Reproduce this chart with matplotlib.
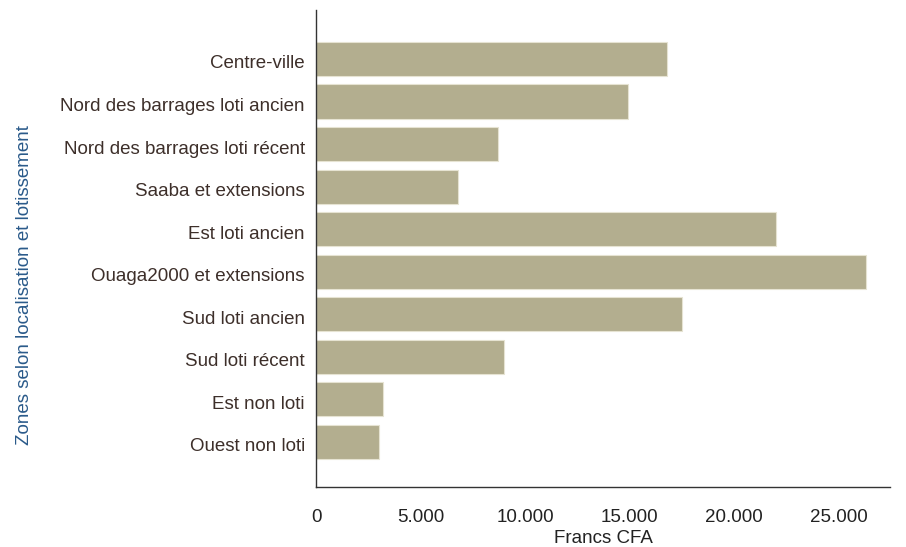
import matplotlib.pyplot as plt
import matplotlib.transforms as mtransforms
from matplotlib.ticker import FuncFormatter

zones = ['Centre-ville', 'Nord des barrages loti ancien', 'Nord des barrages loti récent',
         'Saaba et extensions', 'Est loti ancien', 'Ouaga2000 et extensions',
         'Sud loti ancien', 'Sud loti récent', 'Est non loti', 'Ouest non loti']
valeurs = [16800, 14900, 8700, 6800, 22000, 26300, 17500, 9000, 3200, 3000]
xticks = [0, 5000, 10000, 15000, 20000, 25000]

plt.rcParams['font.family'] = ['Liberation Sans', 'DejaVu Sans']
fs = 13.5

fig = plt.figure(figsize=(9.06, 5.47), dpi=100)
ax = fig.add_axes([0.3488, 0.1097, 0.9823 - 0.3488, 0.9817 - 0.1097])

ypos = list(range(len(zones)))
ax.barh(ypos, valeurs, height=0.8, color='#b3ae8f', edgecolor='#e6e3d2', linewidth=0.8)

ax.set_yticks(ypos)
ax.set_yticklabels(zones, fontsize=fs, color='#3d2f2a')
ax.set_ylim(10.06, -1.15)
ax.set_xlim(0, 27440)
ax.set_xticks(xticks)
ax.xaxis.set_major_formatter(FuncFormatter(lambda v, p: f'{int(v):,}'.replace(',', '.')))
ax.tick_params(axis='x', length=0, pad=16, labelsize=fs, labelcolor='#222222')
ax.tick_params(axis='y', length=0, pad=8)

# labels un peu plus bas que le centre des barres
offset = mtransforms.ScaledTranslation(0, -3 / 100, fig.dpi_scale_trans)
for lbl in ax.get_yticklabels():
    lbl.set_transform(lbl.get_transform() + offset)

for s in ['top', 'right']:
    ax.spines[s].set_visible(False)
for s in ['left', 'bottom']:
    ax.spines[s].set_color('#333333')
    ax.spines[s].set_linewidth(1.0)

ax.set_xlabel('Francs CFA', fontsize=fs, color='#222222', labelpad=3)
fig.text(25 / 906, 1 - 285 / 547, 'Zones selon localisation et lotissement',
         rotation=90, ha='center', va='center', fontsize=fs, color='#2a5a8a')

fig.savefig('out.png', dpi=100)
